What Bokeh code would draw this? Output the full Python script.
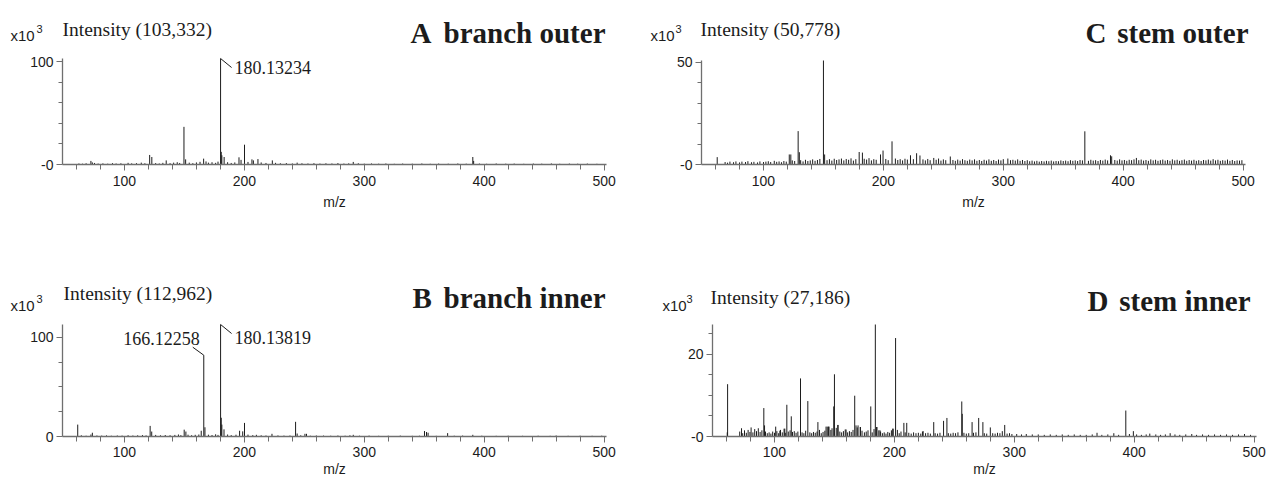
from bokeh.plotting import figure
from bokeh.models import FixedTicker, Label, Range1d, ColumnDataSource
from bokeh.layouts import row, column
from bokeh.embed import file_html
from bokeh.resources import INLINE

# ---------------- data (m/z, intensity in x10^3) ----------------
x_major = [100, 200, 300, 400, 500]
x_minor = [60, 80, 120, 140, 160, 180, 220, 240, 260, 280, 320, 340, 360, 380,
           420, 440, 460, 480]

# A  branch outer
a_max = 103.332
a_peak_mz = [180.13, 149.6, 121.0, 122.8, 134.8, 72.0, 73.2, 151.0, 166.0, 180.7, 181.2,
             183.1, 195.5, 197.2, 200.1, 206.3, 207.5, 211.3, 223.3, 290.8, 390.5, 391.2]
a_peak_int = [103.332, 36.7, 9.3, 7.3, 4.0, 3.5, 2.0, 5.0, 5.7, 12.3, 9.0,
              7.3, 7.0, 4.5, 19.3, 5.0, 4.0, 5.3, 4.0, 2.5, 7.3, 3.5]
a_noise_mz = [62, 65, 68, 75, 78, 82, 86, 90, 93, 97, 103, 106, 110, 114, 117, 126, 129, 132,
              138, 141, 144, 146, 154, 157, 160, 163, 168, 170, 173, 176, 178, 186, 189, 192,
              203, 214, 218, 226, 230, 235, 240, 244, 248, 253, 258, 263, 268, 273, 278, 283,
              287, 295, 300, 306, 312, 318, 325, 332, 340, 348, 355, 362, 370, 378, 385, 396,
              402, 410, 418, 425, 433, 441, 448, 456, 463, 471, 478, 486, 494]
a_noise_int = [1.0, 0.8, 1.2, 1.5, 0.9, 1.1, 0.8, 1.3, 1.0, 1.2, 1.6, 1.1, 1.3, 1.8, 1.2, 1.4, 1.0, 1.6,
               1.3, 1.8, 2.2, 1.5, 1.8, 1.3, 2.0, 2.6, 3.0, 1.8, 2.2, 1.6, 2.8, 2.2, 1.5, 2.0,
               2.5, 2.0, 1.5, 1.6, 1.2, 1.4, 1.0, 1.8, 1.2, 1.0, 1.3, 0.9, 1.2, 1.0, 1.4, 0.9,
               1.1, 1.2, 0.8, 1.0, 0.8, 1.0, 0.7, 0.9, 0.8, 1.0, 0.7, 0.9, 0.8, 1.0, 0.8, 0.9,
               0.7, 1.0, 0.8, 0.9, 0.7, 0.9, 0.8, 1.0, 0.7, 0.9, 0.8, 0.9, 0.7]

# B  branch inner
b_max = 112.962
b_peak_mz = [180.14, 166.12, 61.0, 72.0, 73.2, 121.4, 122.7, 149.8, 151.2, 164.0, 167.1,
             180.7, 181.2, 183.0, 196.0, 198.6, 200.1, 223.0, 242.7, 244.0, 250.5, 251.8,
             290.8, 350.2, 351.9, 353.2, 369.5, 390.5]
b_peak_int = [112.962, 82.0, 12.0, 2.0, 3.8, 10.7, 5.0, 6.9, 5.0, 5.8, 9.3,
              18.9, 12.0, 7.2, 5.8, 5.2, 13.7, 2.7, 14.8, 3.0, 2.7, 2.7,
              1.7, 5.5, 4.5, 3.8, 3.4, 1.7]
b_noise_mz = [64, 68, 77, 81, 85, 89, 94, 98, 103, 107, 111, 115, 118, 126, 130, 134, 138, 142,
              145, 147, 153, 156, 159, 162, 170, 173, 176, 178, 186, 189, 193, 203, 207, 210,
              214, 218, 228, 233, 238, 247, 255, 260, 266, 272, 278, 284, 288, 296, 304, 312,
              320, 330, 340, 346, 360, 375, 382, 398, 410, 420, 432, 445, 455, 460, 470, 480,
              490, 498]
b_noise_int = [1.2, 0.8, 1.0, 0.9, 1.1, 0.8, 1.0, 0.9, 1.3, 1.0, 1.2, 1.4, 1.1, 1.6, 1.2, 1.5, 1.3, 1.6,
               2.0, 1.4, 1.8, 1.3, 1.7, 2.0, 1.8, 1.5, 2.2, 1.6, 2.0, 1.4, 1.8, 1.9, 1.4, 1.7,
               1.2, 1.0, 1.1, 0.9, 1.0, 1.2, 0.8, 1.0, 0.9, 0.8, 1.0, 0.8, 1.2, 0.8, 0.9, 0.7,
               0.8, 0.9, 0.7, 0.8, 0.7, 0.8, 0.9, 0.8, 0.7, 0.8, 0.7, 0.8, 0.7, 1.0, 0.7, 0.8,
               0.7, 0.8]

# C  stem outer
c_max = 50.778
c_peak_mz = [61.4, 121.5, 122.8, 128.9, 129.9, 150.0, 151.0, 179.8, 182.5, 197.6, 199.7,
             207.2, 222.6, 227.7, 230.5, 242.0, 255.8, 303.8, 368.0, 389.4, 390.4, 411.0]
c_peak_int = [3.6, 4.9, 4.9, 16.3, 6.0, 50.778, 4.9, 6.1, 5.8, 4.9, 6.8,
              11.3, 4.5, 5.5, 4.4, 3.2, 3.9, 2.9, 16.2, 4.5, 4.0, 3.2]
c_noise_mz = [68, 70, 72, 75, 77, 80, 82, 85, 87, 90, 92, 95, 97, 100, 102, 104, 106, 109, 111,
              113, 115, 117, 119, 124, 126, 131, 133, 135, 137, 139, 141, 143, 145, 147, 153,
              155, 157, 159, 161, 163, 165, 167, 169, 171, 173, 175, 177, 184, 186, 188, 190,
              192, 194, 202, 204, 210, 212, 214, 216, 218, 220, 225, 233, 235, 237, 239, 244,
              246, 248, 250, 252, 258, 260, 262, 264, 266, 268, 270, 272, 274, 276, 278, 280,
              282, 284, 286, 288, 290, 292, 294, 296, 298, 300, 306, 308, 310, 312, 314, 316,
              318, 320, 322, 324, 326, 328, 330, 332, 334, 336, 338, 340, 342, 344, 346, 348,
              350, 352, 354, 356, 358, 360, 362, 364, 366, 371, 373, 375, 377, 379, 381, 383,
              385, 387, 393, 395, 397, 399, 401, 403, 405, 407, 409, 413, 415, 417, 419, 421,
              423, 425, 427, 429, 431, 433, 435, 437, 439, 441, 443, 445, 447, 449, 451, 453,
              455, 457, 459, 461, 463, 465, 467, 469, 471, 473, 475, 477, 479, 481, 483, 485,
              487, 489, 491, 493, 495, 497, 499]
c_noise_int = [1.2, 0.9, 1.4, 1.1, 1.5, 1.0, 1.4, 1.2, 1.6, 1.1, 1.3, 1.0, 1.5, 1.2, 1.4, 1.6, 1.2,
               1.8, 1.3, 1.5, 1.1, 1.7, 1.4, 2.0, 1.7, 2.1, 1.5, 2.3, 1.7, 2.0, 2.5, 1.8, 2.2, 2.7,
               2.1, 2.6, 1.9, 2.8, 2.2, 2.5, 2.9, 2.0, 2.7, 2.3, 3.0, 1.9, 2.6, 2.8, 2.4, 3.1,
               2.0, 2.6, 2.3, 2.7, 2.1, 2.9, 2.2, 2.6, 2.0, 2.8, 2.4, 2.6, 2.5, 2.0, 2.7, 2.1,
               2.3, 2.9, 1.9, 2.5, 2.1, 2.2, 1.8, 2.4, 1.9, 2.6, 2.1, 1.8, 2.4, 2.0, 2.5, 1.8,
               2.2, 1.7, 2.3, 1.9, 2.5, 1.8, 2.2, 1.7, 2.4, 2.0, 2.6, 2.1, 2.3, 1.9, 2.5, 1.8,
               2.2, 1.7, 2.1, 1.6, 1.9, 1.5, 1.8, 1.4, 1.7, 1.5, 1.8, 1.6, 1.9, 1.5, 1.7, 1.6,
               2.0, 1.7, 1.9, 1.6, 2.1, 1.8, 2.0, 1.7, 2.2, 2.0, 1.8, 2.3, 1.9, 2.1, 1.7, 2.2,
               1.9, 2.4, 2.0, 2.2, 1.9, 2.5, 2.0, 2.2, 1.8, 2.3, 2.1, 2.5, 2.1, 2.4, 1.9, 2.2,
               1.8, 2.5, 2.0, 2.3, 1.8, 2.1, 2.4, 1.9, 2.2, 1.8, 2.5, 2.0, 2.3, 1.8, 2.1, 2.4,
               1.8, 2.2, 1.9, 2.3, 1.8, 2.1, 1.7, 2.2, 2.0, 2.4, 1.9, 2.6, 2.0, 2.3, 1.8, 2.1,
               1.9, 2.4, 1.8, 2.2, 1.7, 2.0, 1.9, 2.1]

# D  stem inner
d_max = 27.186
d_peak_mz = [60.9, 60.6, 91.1, 91.7, 101.0, 104.5, 108.6, 110.3, 114.0, 121.7, 127.8,
             136.2, 143.0, 145.0, 150.0, 149.4, 152.8, 159.7, 166.9, 169.7, 171.7, 180.3,
             184.1, 185.0, 188.0, 198.6, 201.0, 207.9, 210.3, 223.4, 232.8, 241.0, 243.8,
             256.2, 256.6, 264.8, 270.3, 273.8, 280.0, 292.0, 393.0, 399.3]
d_peak_int = [12.7, 1.0, 6.9, 2.7, 2.4, 1.4, 1.9, 7.7, 4.9, 14.1, 8.6,
              3.5, 2.4, 2.4, 15.1, 7.3, 2.8, 1.7, 9.9, 2.7, 2.3, 7.3,
              27.186, 2.3, 1.5, 1.9, 23.9, 3.3, 3.3, 1.2, 3.5, 3.8, 4.5,
              8.5, 5.5, 3.5, 4.5, 3.5, 2.2, 2.8, 6.3, 1.3]
d_noise_mz = [71, 72.5, 73.5, 75, 76.5, 78, 79.5, 80.5, 82, 83.5, 85, 86.5, 88, 89.5, 92.5, 94,
              95.5, 97, 98.5, 100, 102, 103.5, 105, 106.5, 108, 109, 111.5, 113, 115, 116.5,
              118, 119.5, 123, 124.5, 126, 129.5, 131, 132.5, 134, 135.5, 137.5, 139, 140.5,
              142, 144, 145.5, 147, 148, 151.5, 153, 154.5, 156, 157.5, 159, 161, 162.5, 164,
              165.5, 168, 169, 171.5, 173, 175, 176.5, 178, 181.5, 183, 185.5, 187, 188.5, 190,
              191.5, 193, 194.5, 196, 197.5, 199, 202.5, 204, 205.5, 209, 212, 214, 216, 218,
              220, 222, 224, 226, 228, 230, 234, 236, 238, 245, 247, 249, 251, 253, 258, 260,
              262, 266, 268, 275, 277, 282, 284, 286, 288, 290, 294, 296, 298, 302, 306, 310,
              315, 320, 325, 330, 335, 340, 345, 350, 355, 360, 365, 369, 373, 378, 383, 387,
              396, 402, 406, 410, 413, 418, 422, 426, 430, 434, 438, 443, 448, 452, 457, 462,
              467, 472, 477, 482, 487, 492, 497]
d_noise_int = [1.2, 2.0, 0.8, 1.5, 0.9, 1.6, 1.1, 2.2, 1.0, 1.8, 1.3, 2.0, 1.1, 1.5, 1.2, 0.8,
               1.0, 0.7, 1.2, 0.9, 1.3, 0.8, 1.6, 1.0, 1.9, 0.9, 1.2, 1.5, 1.1, 1.3,
               0.9, 1.2, 1.0, 0.8, 1.4, 1.0, 0.8, 1.1, 0.9, 1.2, 1.6, 0.8, 1.1,
               1.4, 2.4, 2.4, 1.6, 2.0, 2.1, 2.8, 1.2, 1.0, 1.3, 1.7, 1.0, 1.3, 1.1,
               1.6, 2.7, 2.2, 2.3, 1.4, 1.0, 1.2, 1.5, 1.0, 1.8, 2.3, 1.5, 1.2, 0.8,
               1.0, 0.7, 1.1, 0.9, 1.5, 1.9, 1.6, 0.8, 1.2, 1.0, 0.9, 0.7, 1.0, 0.8,
               0.9, 0.7, 1.3, 0.8, 0.9, 0.7, 0.8, 0.7, 0.9, 0.8, 0.7, 0.9, 0.8, 1.0, 0.9, 0.7,
               0.8, 0.9, 1.0, 0.8, 0.7, 0.8, 0.7, 0.9, 0.8, 1.3, 0.7, 0.8, 0.6, 0.6, 0.5, 0.6,
               0.5, 0.5, 0.4, 0.5, 0.4, 0.5, 0.4, 0.5, 0.4, 0.4, 0.5, 0.9, 0.4, 0.5, 0.8, 0.4,
               0.6, 0.5, 0.4, 0.5, 0.7, 0.5, 0.4, 0.5, 0.8, 0.5, 0.4, 0.5, 0.6, 0.4, 0.5, 0.4,
               0.5, 0.4, 0.5, 0.4, 0.5, 0.6, 0.4]

# ---------------- styling ----------------
X_MIN, X_MAX = 48.3, 502.0
AXIS = "#6f6f6f"
INK = "#1c1c1c"
SANS = "Liberation Sans"
SERIF = "Liberation Serif"


def make_panel(peak_mz, peak_int, noise_mz, noise_int, ymax, y_major, y_minor, zero_text,
               intensity_text, letter, words, fig, frame, txt, mz_pos, peak_labels, xstand):
    fx, fy, fw, fh = fig          # canvas box on the page (pixels)
    L, T, R, B = frame            # where the data area sits on the page (pixels)
    xs = (R - L) / (X_MAX - X_MIN)
    ys = (B - T) / ymax
    x0 = X_MIN - (L - fx) / xs
    x1 = X_MAX + (fx + fw - R) / xs
    y0 = -(fy + fh - B) / ys
    y1 = ymax + (T - fy) / ys

    def dx(ix):
        return x0 + (ix - fx) / xs

    def dy(iy):
        return y1 - (iy - fy) / ys

    p = figure(width=fw, height=fh, x_range=Range1d(x0, x1), y_range=Range1d(y0, y1),
               output_backend="svg", toolbar_location=None, title=None,
               min_border_left=0, min_border_right=0, min_border_top=0, min_border_bottom=0)
    p.outline_line_color = None
    p.xgrid.visible = False
    p.ygrid.visible = False
    p.background_fill_color = "white"
    p.border_fill_color = "white"

    # axes drawn inside the canvas at the data origin
    p.xaxis.fixed_location = 0
    p.xaxis.bounds = (X_MIN, X_MAX)
    p.yaxis.fixed_location = X_MIN
    p.yaxis.bounds = (0, ymax)
    p.xaxis.ticker = FixedTicker(ticks=x_major, minor_ticks=x_minor)
    p.yaxis.ticker = FixedTicker(ticks=[0, y_major], minor_ticks=y_minor)
    for ax in (p.xaxis, p.yaxis):
        ax.axis_line_color = AXIS
        ax.axis_line_width = 1.3
        ax.major_tick_line_color = AXIS
        ax.minor_tick_line_color = AXIS
        ax.major_tick_in = 0
        ax.minor_tick_in = 0
        ax.major_tick_out = 6
        ax.major_label_text_font = SANS
        ax.major_label_text_font_size = "14px"
        ax.major_label_text_color = INK
    p.xaxis.minor_tick_out = 5
    p.yaxis.minor_tick_out = 4
    p.xaxis.major_label_standoff = xstand
    p.yaxis.major_label_standoff = 3
    if zero_text != "0":
        p.yaxis.major_label_overrides = {0: zero_text}

    # spectrum
    p.segment(x0="mz", y0=0, x1="mz", y1="h",
              source=ColumnDataSource(dict(mz=noise_mz, h=noise_int)),
              line_color=INK, line_width=1)
    p.segment(x0="mz", y0=0, x1="mz", y1="h",
              source=ColumnDataSource(dict(mz=peak_mz, h=peak_int)),
              line_color=INK, line_width=1)

    # peak annotations
    for (mz, hgt, text, side, tdy) in peak_labels:
        if side == "right":
            p.segment(x0=[mz], y0=[hgt], x1=[mz + 11 / xs], y1=[hgt - 9 / ys],
                      line_color=INK, line_width=1)
            p.add_layout(Label(x=mz, y=hgt, x_offset=14, y_offset=tdy, text=text,
                               text_font=SERIF, text_font_size="18px", text_color=INK,
                               text_baseline="middle", text_align="left"))
        else:
            p.segment(x0=[mz], y0=[hgt], x1=[mz - 11 / xs], y1=[hgt + 8 / ys],
                      line_color=INK, line_width=1)
            p.add_layout(Label(x=mz, y=hgt, x_offset=-4, y_offset=tdy, text=text,
                               text_font=SERIF, text_font_size="18px", text_color=INK,
                               text_baseline="middle", text_align="right"))

    def lab(text, ix, iy, font, size, align="left", style="normal"):
        p.add_layout(Label(x=dx(ix), y=dy(iy), text=text, text_font=font,
                           text_font_size=size, text_font_style=style, text_color=INK,
                           text_align=align, text_baseline="middle"))

    (x10x, x10y), (supx, supy), (intx, inty), (titx, tity), wordsx = txt
    lab("x10", x10x, x10y, SANS, "15px")
    lab("3", supx, supy, SANS, "11px")
    lab(intensity_text, intx, inty, SERIF, "19.5px")
    lab(letter, titx, tity, SERIF, "29px", "left", "bold")
    lab(words, wordsx, tity, SERIF, "29px", "right", "bold")
    lab("m/z", mz_pos[0], mz_pos[1], SANS, "14px", "center")
    return p


pA = make_panel(a_peak_mz, a_peak_int, a_noise_mz, a_noise_int, a_max, 100, [20, 40, 60, 80], "-0",
                "Intensity (103,332)", "A", "branch outer",
                (0, 0, 628, 240), (62, 58, 606, 164),
                ((10, 35), (36, 28), (62, 29), (410, 32), 605), (334, 201),
                [(180.13, a_max, "180.13234", "right", -9)], 5)
pC = make_panel(c_peak_mz, c_peak_int, c_noise_mz, c_noise_int, c_max, 50, [10, 20, 30, 40], "-0",
                "Intensity (50,778)", "C", "stem outer",
                (628, 0, 640, 240), (701, 60, 1245, 164),
                ((650, 35), (675, 28), (700, 29), (1085, 32), 1248), (973, 201),
                [], 5)
pB = make_panel(b_peak_mz, b_peak_int, b_noise_mz, b_noise_int, b_max, 100, [25, 50, 75], "0",
                "Intensity (112,962)", "B", "branch inner",
                (0, 240, 628, 239), (62, 324, 606, 436),
                ((10, 305), (36, 298), (63, 293), (412, 297), 605), (334, 468),
                [(180.14, b_max, "180.13819", "right", -13),
                 (166.12, 82.0, "166.12258", "left", 17)], 4)
pD = make_panel(d_peak_mz, d_peak_int, d_noise_mz, d_noise_int, d_max, 20, [5, 10, 15, 25], "-0",
                "Intensity (27,186)", "D", "stem inner",
                (628, 240, 640, 239), (712, 324, 1256, 436),
                ((662, 305), (686, 298), (710, 297), (1087, 300), 1250), (984, 468),
                [], 4)

layout = column(row(pA, pC), row(pB, pD))
open("out.html", "w").write(file_html(layout, INLINE))
